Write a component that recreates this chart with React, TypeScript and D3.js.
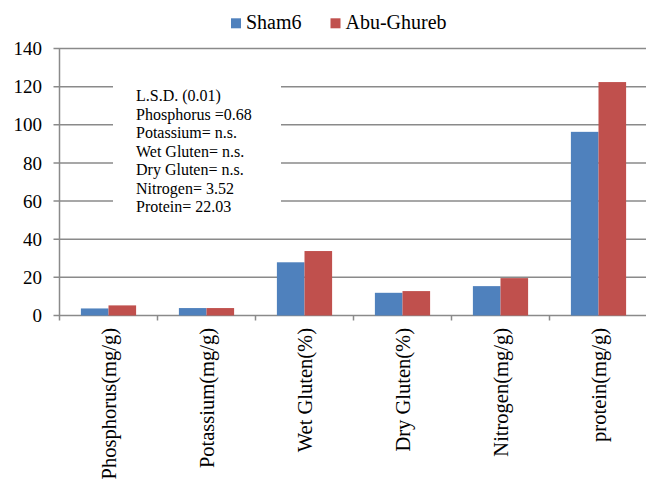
import React from "react";
import * as d3 from "d3";

const categories = [
  "Phosphorus(mg/g)",
  "Potassium(mg/g)",
  "Wet Gluten(%)",
  "Dry Gluten(%)",
  "Nitrogen(mg/g)",
  "protein(mg/g)",
];
const seriesNames = ["Sham6", "Abu-Ghureb"];
const sham6 = [3.7, 3.9, 27.9, 11.9, 15.4, 96.3];
const abuGhureb = [5.3, 3.9, 33.8, 12.8, 19.6, 122.4];
const yTicks = [0, 20, 40, 60, 80, 100, 120, 140];
const lsdLines = [
  "L.S.D. (0.01)",
  "Phosphorus =0.68",
  "Potassium= n.s.",
  "Wet Gluten= n.s.",
  "Dry Gluten= n.s.",
  "Nitrogen= 3.52",
  "Protein= 22.03",
];

const colors = ["#4F81BD", "#C0504D"];
const font = "Liberation Serif";
const grid = "#8a8a8a";

const width = 646;
const height = 485;
const left = 59.5;
const right = 647.5;
const top = 48.5;
const bottom = 315.5;

const App: React.FC = () => {
  const x = d3.scaleBand<string>().domain(categories).range([left, right]).padding(0);
  const xs = d3
    .scaleBand<string>()
    .domain(seriesNames)
    .range([0, x.bandwidth()])
    .paddingInner(0)
    .paddingOuter(0.775);
  const y = d3.scaleLinear().domain([0, 140]).range([bottom, top]);

  const values = [sham6, abuGhureb];
  const legendX = [231, 330.5];

  return (
    <svg
      width={width}
      height={height}
      fontFamily={font}
      style={{ position: "absolute", left: 0, top: 0, background: "#fff" }}
    >
      {/* gridlines and y ticks */}
      {yTicks.map((t) => (
        <g key={t}>
          <line x1={left - 6} x2={width} y1={y(t)} y2={y(t)} stroke={grid} strokeWidth={1.5} />
          <text x={42} y={y(t)} dy="0.35em" textAnchor="end" fontSize={19} fontFamily={font}>
            {t}
          </text>
        </g>
      ))}

      {/* L.S.D. note */}
      <rect x={113} y={78} width={168} height={146} fill="#fff" />
      {lsdLines.map((l, i) => (
        <text key={l} x={136} y={101 + i * 18.5} fontSize={16} fontFamily={font}>
          {l}
        </text>
      ))}

      {/* bars */}
      {categories.map((c, i) =>
        seriesNames.map((s, j) => {
          const v = values[j][i];
          return (
            <rect
              key={c + s}
              x={(x(c) ?? 0) + (xs(s) ?? 0)}
              y={y(v)}
              width={xs.bandwidth()}
              height={bottom - y(v)}
              fill={colors[j]}
            />
          );
        })
      )}

      {/* axes */}
      <line x1={left} x2={left} y1={top} y2={bottom + 5} stroke={grid} strokeWidth={1.5} />
      {categories.map((c) => {
        const xp = (x(c) ?? 0) + x.bandwidth();
        const xc = (x(c) ?? 0) + x.bandwidth() / 2;
        return (
          <g key={c}>
            <line x1={xp} x2={xp} y1={bottom} y2={bottom + 5} stroke={grid} strokeWidth={1.5} />
            <text
              transform={`translate(${xc},${bottom + 12.5}) rotate(-90)`}
              dy="0.35em"
              textAnchor="end"
              fontSize={20.5}
              fontFamily={font}
            >
              {c}
            </text>
          </g>
        );
      })}

      {/* legend */}
      {seriesNames.map((s, j) => (
        <g key={s}>
          <rect x={legendX[j]} y={18.3} width={10} height={10} fill={colors[j]} />
          <text x={legendX[j] + 15} y={28.5} fontSize={20} fontFamily={font}>
            {s}
          </text>
        </g>
      ))}
    </svg>
  );
};

export default App;
